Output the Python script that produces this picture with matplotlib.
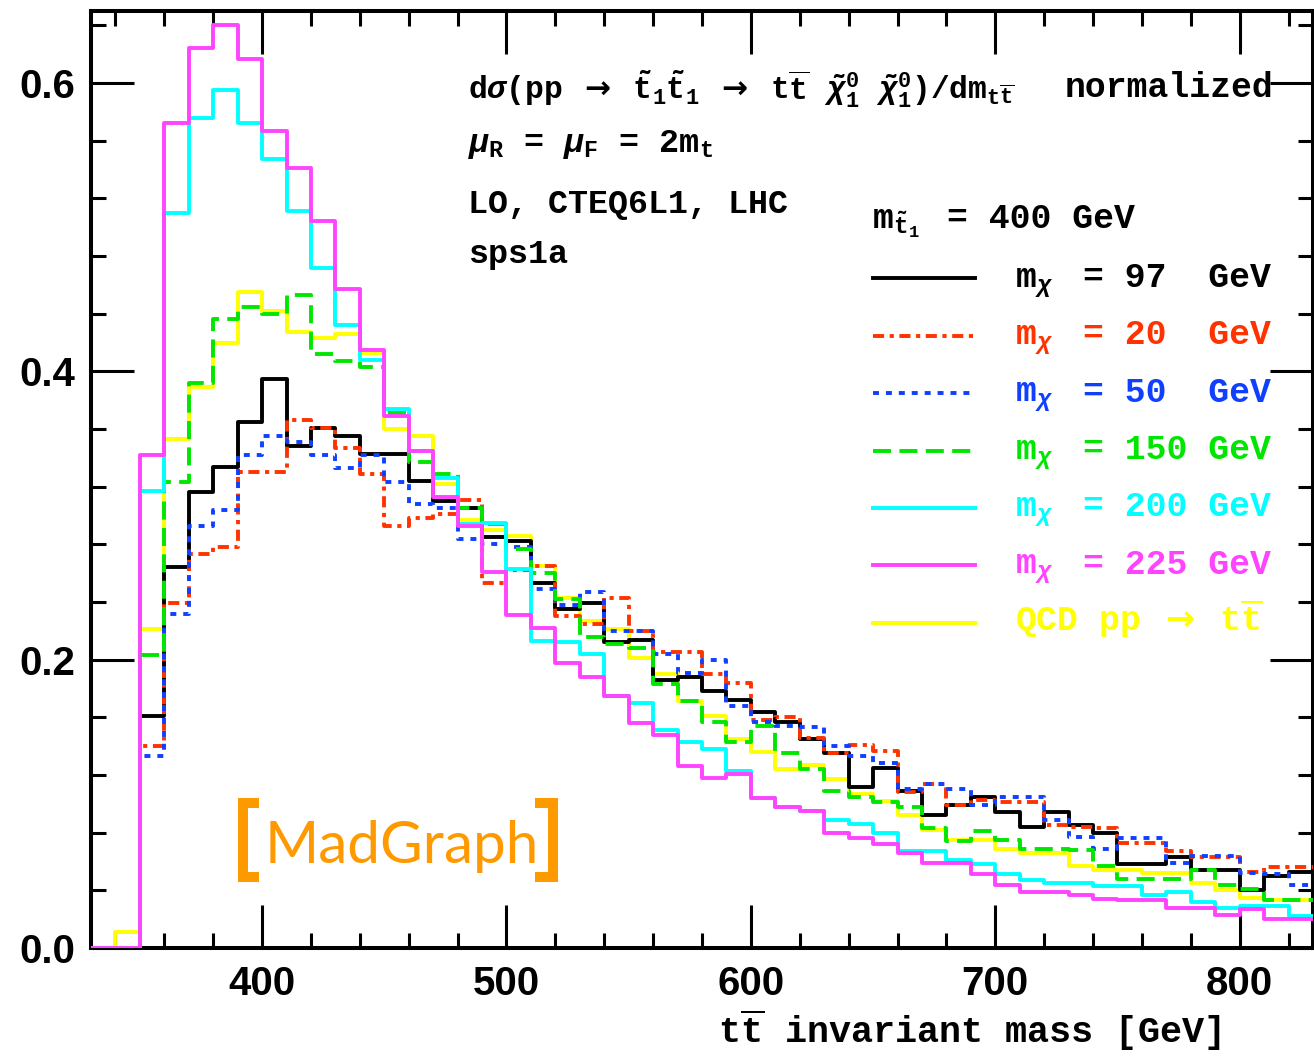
import numpy as np
import matplotlib
matplotlib.use('Agg')
import matplotlib.pyplot as plt
from matplotlib.lines import Line2D
from matplotlib.ticker import MultipleLocator

plt.rcParams['mathtext.fontset'] = 'custom'
plt.rcParams['mathtext.rm'] = 'Liberation Mono:bold'
plt.rcParams['mathtext.it'] = 'Liberation Mono:italic:bold'
plt.rcParams['mathtext.bf'] = 'Liberation Mono:bold'
plt.rcParams['mathtext.sf'] = 'DejaVu Sans:bold'
plt.rcParams['lines.scale_dashes'] = False

# histogram bin edges, 10 GeV bins
edges = np.arange(330, 831, 10)

# normalized d sigma / d m_tt, one value per bin (330-340 ... 820-830)
m97 = [0, 0, 0.161, 0.264, 0.316, 0.334, 0.365, 0.395, 0.348, 0.361,
       0.355, 0.343, 0.343, 0.324, 0.310, 0.305, 0.285, 0.282, 0.253, 0.235,
       0.239, 0.212, 0.214, 0.186, 0.188, 0.178, 0.172, 0.164, 0.157, 0.145,
       0.135, 0.112, 0.125, 0.109, 0.092, 0.099, 0.105, 0.094, 0.084, 0.094,
       0.085, 0.080, 0.058, 0.058, 0.063, 0.054, 0.054, 0.040, 0.050, 0.053]
m20 = [0, 0, 0.140, 0.239, 0.273, 0.278, 0.330, 0.330, 0.366, 0.361,
       0.347, 0.329, 0.293, 0.298, 0.301, 0.311, 0.253, 0.262, 0.265, 0.230,
       0.225, 0.243, 0.220, 0.205, 0.205, 0.190, 0.184, 0.158, 0.160, 0.146,
       0.135, 0.141, 0.137, 0.108, 0.114, 0.099, 0.103, 0.101, 0.101, 0.085,
       0.084, 0.083, 0.073, 0.073, 0.067, 0.063, 0.063, 0.053, 0.056, 0.056]
m50 = [0, 0, 0.133, 0.232, 0.293, 0.304, 0.342, 0.355, 0.351, 0.342,
       0.333, 0.342, 0.323, 0.308, 0.305, 0.284, 0.280, 0.278, 0.249, 0.238,
       0.247, 0.220, 0.220, 0.204, 0.191, 0.200, 0.168, 0.157, 0.154, 0.153,
       0.140, 0.133, 0.128, 0.110, 0.114, 0.110, 0.099, 0.105, 0.105, 0.089,
       0.077, 0.069, 0.076, 0.076, 0.059, 0.064, 0.064, 0.052, 0.051, 0.044]
m150 = [0, 0, 0.203, 0.323, 0.392, 0.436, 0.445, 0.440, 0.453, 0.412,
        0.407, 0.403, 0.371, 0.337, 0.329, 0.305, 0.294, 0.277, 0.260, 0.242,
        0.216, 0.211, 0.208, 0.183, 0.171, 0.157, 0.143, 0.154, 0.135, 0.124,
        0.109, 0.105, 0.101, 0.098, 0.083, 0.074, 0.081, 0.075, 0.069, 0.069,
        0.068, 0.057, 0.048, 0.048, 0.048, 0.054, 0.044, 0.041, 0.033, 0.033]
m200 = [0, 0, 0.317, 0.510, 0.576, 0.595, 0.572, 0.547, 0.511, 0.472,
        0.432, 0.408, 0.374, 0.345, 0.326, 0.294, 0.295, 0.263, 0.213, 0.212,
        0.204, 0.175, 0.170, 0.151, 0.143, 0.138, 0.123, 0.104, 0.098, 0.095,
        0.089, 0.086, 0.080, 0.067, 0.067, 0.061, 0.058, 0.051, 0.047, 0.045,
        0.045, 0.043, 0.043, 0.037, 0.039, 0.032, 0.028, 0.029, 0.029, 0.022]
m225 = [0, 0, 0.342, 0.572, 0.624, 0.640, 0.617, 0.567, 0.541, 0.504,
        0.457, 0.415, 0.369, 0.345, 0.313, 0.293, 0.261, 0.231, 0.222, 0.198,
        0.188, 0.175, 0.156, 0.148, 0.126, 0.118, 0.121, 0.104, 0.098, 0.095,
        0.080, 0.076, 0.072, 0.066, 0.059, 0.059, 0.051, 0.044, 0.039, 0.039,
        0.037, 0.034, 0.033, 0.033, 0.028, 0.028, 0.023, 0.027, 0.020, 0.020]
qcd = [0, 0.011, 0.221, 0.353, 0.389, 0.420, 0.455, 0.442, 0.427, 0.423,
       0.426, 0.413, 0.360, 0.355, 0.322, 0.297, 0.290, 0.286, 0.265, 0.243,
       0.227, 0.221, 0.201, 0.190, 0.171, 0.161, 0.145, 0.136, 0.124, 0.127,
       0.117, 0.107, 0.102, 0.092, 0.082, 0.075, 0.075, 0.069, 0.066, 0.066,
       0.057, 0.054, 0.054, 0.052, 0.052, 0.045, 0.040, 0.035, 0.033, 0.033]

masses = ['97', '20', '50', '150', '200', '225']
curves = [m97, m20, m50, m150, m200, m225, qcd]
colors = ['black', '#ff3300', '#1040ff', '#00e600', '#00ffff', '#ff44ff', '#ffff00']
styles = ['-', (0, (8, 4, 3, 4)), (0, (4.3, 5)), (0, (13, 6)), '-', '-', '-']
zorders = [3, 4, 5, 6, 7, 8, 2]

W, H = 1314, 1060
fig = plt.figure(figsize=(W / 100, H / 100), dpi=100)
ax = fig.add_axes([91 / W, 1 - 948 / H, (1313 - 91) / W, (948 - 11) / H])

lw = 2.8
for vals, c, ls, z in zip(curves, colors, styles, zorders):
    y = np.append(vals, vals[-1])
    ax.step(edges, y, where='post', color=c, ls=ls, lw=lw, zorder=z)

ax.set_xlim(330, 830)
ax.set_ylim(0, 0.65)
ax.xaxis.set_major_locator(MultipleLocator(100))
ax.xaxis.set_minor_locator(MultipleLocator(20))
ax.yaxis.set_major_locator(MultipleLocator(0.2))
ax.yaxis.set_minor_locator(MultipleLocator(0.04))
ax.tick_params(which='both', direction='in', top=True, right=True, width=2.2)
ax.tick_params(which='major', length=31)
ax.tick_params(which='minor', length=11)
ax.tick_params(axis='x', pad=12)
ax.tick_params(axis='y', pad=11)
for lab in ax.get_xticklabels() + ax.get_yticklabels():
    lab.set_fontfamily('Liberation Sans')
    lab.set_fontweight('bold')
    lab.set_fontsize(29)
ax.yaxis.set_major_formatter(matplotlib.ticker.FormatStrFormatter('%.1f'))
for sp in ax.spines.values():
    sp.set_linewidth(2.9)

mono = dict(family='Liberation Mono', weight='bold')
arrow = r'$\mathsf{\rightarrow}$'


def ftext(x, y, s, size=24, **kw):
    fig.text(x / W, 1 - y / H, s, fontsize=size, va='baseline', **mono, **kw)


# process description
ftext(468, 100, r'd$\sigma$(pp ' + arrow + r' $\tilde{\mathrm{t}}_1\tilde{\mathrm{t}}_1$ ' + arrow +
      r' t$\overline{\mathrm{t}}$ $\tilde{\chi}^0_1$ $\tilde{\chi}^0_1$)/dm$_{\mathrm{t}\overline{\mathrm{t}}}$',
      size=22.5)
ftext(1065, 97, 'normalized', size=25)
ftext(468, 152, r'$\mu_\mathrm{R}$ = $\mu_\mathrm{F}$ = 2m$_\mathrm{t}$')
ftext(468, 213, 'LO, CTEQ6L1, LHC')
ftext(468, 263, 'sps1a')

# legend
ftext(872, 228, r'm$_{\tilde{\mathrm{t}}_1}$', size=25)
ftext(947, 228, '= 400 GeV', size=25)
for i, (c, ls) in enumerate(zip(colors, styles)):
    yl = 278.3 + 57.4 * i
    fig.add_artist(Line2D([873 / W, 975 / W], [1 - yl / H, 1 - yl / H],
                          color=c, ls=ls, lw=lw, transform=fig.transFigure))
    if i < len(masses):
        ftext(1015, yl + 8.5, r'm$_\chi$', size=25, color=c)
        ftext(1083, yl + 8.5, '= %-3s GeV' % masses[i], size=25, color=c)
    else:
        ftext(1015, yl + 8.5, 'QCD pp ' + arrow + r' t$\overline{\mathrm{t}}$', size=25, color=c)

# x axis title
fig.text(1220 / W, 1 - 1043 / H, r't$\overline{\mathrm{t}}$ invariant mass [GeV]',
         fontsize=26.5, ha='right', va='baseline', **mono)

# MadGraph logo
orange = '#ff9900'
fig.text(265 / W, 1 - 863 / H, 'MadGraph', fontsize=42, family='Lato',
         color=orange, va='baseline')
for xs in ([259, 242.5, 242.5, 259], [535, 553, 553, 535]):
    fig.add_artist(Line2D([x / W for x in xs],
                          [1 - 803 / H, 1 - 803 / H, 1 - 877 / H, 1 - 877 / H],
                          color=orange, lw=7.2, solid_joinstyle='miter',
                          solid_capstyle='butt', transform=fig.transFigure))

fig.savefig('out.png', dpi=100)
